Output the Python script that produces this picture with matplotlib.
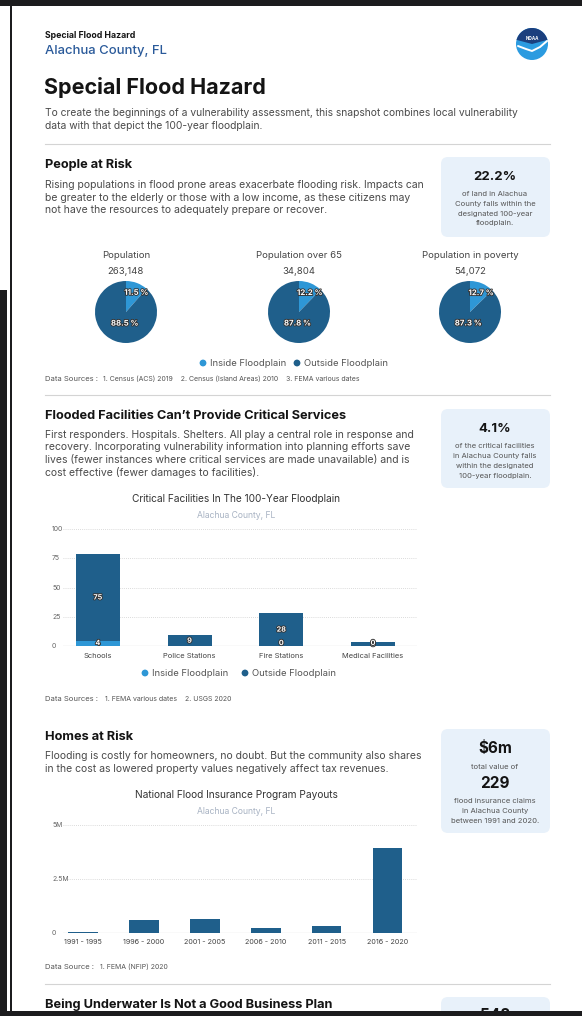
import matplotlib
matplotlib.use("Agg")
import numpy as np
import matplotlib.pyplot as plt
import matplotlib.patheffects as pe
from matplotlib.patches import Rectangle, FancyBboxPatch, Circle, Wedge

W, H = 582, 1016
plt.rcParams["font.family"] = ["Inter", "DejaVu Sans"]

DARK = "#1f5f8b"
LIGHT = "#2e97d6"
BOX = "#e8f1fa"
INK = "#141414"
BODY = "#4a4a4a"

# ------------------------------------------------------------------ data
pie_titles = ["Population", "Population over 65", "Population in poverty"]
pie_totals = ["263,148", "34,804", "54,072"]
pie_inside = [11.5, 12.2, 12.7]
pie_outside = [88.5, 87.8, 87.3]

fac_cats = ["Schools", "Police Stations", "Fire Stations", "Medical Facilities"]
fac_inside = [4, 0, 0, 0]
fac_outside = [75, 9, 28, 3]
fac_show_inside = [True, False, True, True]
fac_yticks = [0, 25, 50, 75, 100]

nfip_periods = ["1991 - 1995", "1996 - 2000", "2001 - 2005",
                "2006 - 2010", "2011 - 2015", "2016 - 2020"]
nfip_payouts = [0.06e6, 0.60e6, 0.66e6, 0.22e6, 0.34e6, 3.95e6]
nfip_yticks = [0, 2.5e6, 5e6]
nfip_yticklabels = ["0", "2.5M", "5M"]

intro = ["To create the beginnings of a vulnerability assessment, this snapshot combines local vulnerability",
         "data with that depict the 100-year floodplain."]
people_text = ["Rising populations in flood prone areas exacerbate flooding risk. Impacts can",
               "be greater to the elderly or those with a low income, as these citizens may",
               "not have the resources to adequately prepare or recover."]
people_box = ["of land in Alachua", "County falls within the", "designated 100-year", "floodplain."]
fac_text = ["First responders. Hospitals. Shelters. All play a central role in response and",
            "recovery. Incorporating vulnerability information into planning efforts save",
            "lives (fewer instances where critical services are made unavailable) and is",
            "cost effective (fewer damages to facilities)."]
fac_box = ["of the critical facilities", "in Alachua County falls", "within the designated", "100-year floodplain."]
homes_text = ["Flooding is costly for homeowners, no doubt. But the community also shares",
              "in the cost as lowered property values negatively affect tax revenues."]
homes_box = ["flood insurance claims", "in Alachua County", "between 1991 and 2020."]

fig = plt.figure(figsize=(W / 100, H / 100), dpi=100)
fig.patch.set_facecolor("white")
ax = fig.add_axes([0, 0, 1, 1])
ax.set_xlim(0, W)
ax.set_ylim(H, 0)
ax.axis("off")

BODY_FS = 7.5
HEAD_FS = 9.2
BOX_FS = 5.5
SRC_FS = 5.0


def px_axes(x0, y0, x1, y1):
    return fig.add_axes([x0 / W, 1 - y1 / H, (x1 - x0) / W, (y1 - y0) / H])


def lines(txts, x, y0, step, **kw):
    for i, t in enumerate(txts):
        ax.text(x, y0 + i * step, t, va="center", **kw)


def stat_box(y0, y1):
    ax.add_patch(FancyBboxPatch((441, y0), 109, y1 - y0,
                                boxstyle="round,pad=0,rounding_size=7",
                                fc=BOX, ec="none"))


def divider(y):
    ax.plot([45, 550], [y, y], color="#d4d4d4", lw=0.8)


def legend(y, xs):
    for (xc, col, lab) in zip(xs, [LIGHT, DARK], ["Inside Floodplain", "Outside Floodplain"]):
        ax.add_patch(Circle((xc, y), 3.4, fc=col, ec="none"))
        ax.text(xc + 7, y, lab, va="center", fontsize=6.8, color="#555")


def sources(y, label, rest, x_rest):
    ax.text(45, y, label, fontsize=5.5, color="#555", va="center")
    ax.text(x_rest, y, rest, fontsize=SRC_FS, color="#555", va="center")


outline = [pe.withStroke(linewidth=1.3, foreground="#333")]

# ------------------------------------------------------------------ header
ax.text(45, 36, "Special Flood Hazard", fontsize=6.3, weight="bold", color=INK, va="center")
ax.text(45, 51, "Alachua County, FL", fontsize=9.4, weight="medium", color="#2a5a9a", va="center")
ax.text(44, 88, "Special Flood Hazard", fontsize=15.5, weight="bold", color=INK, va="center")
lines(intro, 45, 113, 13, fontsize=7.4, color=BODY)
divider(144)

# NOAA logo
ax.add_patch(Circle((532, 44), 16, fc="#2b9be0", ec="none"))
ax.add_patch(Wedge((532, 44), 16, 195, 345, fc="#1b3f7e", ec="none"))
ax.plot([518, 526, 532, 540, 547], [46, 49, 51, 47, 41], color="white", lw=1.4,
        solid_capstyle="round")
ax.text(532, 38, "NOAA", fontsize=3.2, weight="bold", color="white", ha="center", va="center")

# ------------------------------------------------------------------ people at risk
ax.text(45, 165, "People at Risk", fontsize=HEAD_FS, weight="bold", color=INK, va="center")
lines(people_text, 45, 185, 12.7, fontsize=BODY_FS, color=BODY)
stat_box(157, 237)
ax.text(495, 177, "22.2%", fontsize=9.5, weight="bold", color=INK, ha="center", va="center")
lines(people_box, 495, 194, 9.8, fontsize=BOX_FS, color="#555", ha="center")

pie_cx = [126, 299, 470]
for cx, title, tot, pin, pout in zip(pie_cx, pie_titles, pie_totals, pie_inside, pie_outside):
    ax.text(cx, 256, title, fontsize=6.9, color="#444", ha="center", va="center")
    ax.text(cx, 271, tot, fontsize=6.9, color="#444", ha="center", va="center")
    pax = px_axes(cx - 31, 281, cx + 31, 343)
    wedges, _ = pax.pie([pin, pout], colors=[LIGHT, DARK], startangle=90,
                        counterclock=False, radius=1.0)
    pax.set_xlim(-1, 1)
    pax.set_ylim(-1, 1)
    pax.set_aspect("equal")
    for w, v, r in zip(wedges, [pin, pout], [0.66, 0.4]):
        ang = np.deg2rad((w.theta1 + w.theta2) / 2)
        pax.text(r * np.cos(ang) + 0.1, r * np.sin(ang), f"{v} %", ha="center", va="center",
                 fontsize=5.6, color="white", weight="bold", path_effects=outline)

legend(363, [203, 297])
sources(379, "Data Sources :",
        "1. Census (ACS) 2019    2. Census (Island Areas) 2010    3. FEMA various dates", 103)
divider(395)

# ------------------------------------------------------------------ facilities
ax.text(45, 416, "Flooded Facilities Can\u2019t Provide Critical Services", fontsize=HEAD_FS,
        weight="bold", color=INK, va="center")
lines(fac_text, 45, 434.5, 12.8, fontsize=BODY_FS, color=BODY)
stat_box(409, 488)
ax.text(495, 429, "4.1%", fontsize=9.5, weight="bold", color=INK, ha="center", va="center")
lines(fac_box, 495, 446, 10, fontsize=BOX_FS, color="#555", ha="center")

ax.text(236, 499, "Critical Facilities In The 100-Year Floodplain", fontsize=7.3,
        color="#333", ha="center", va="center")
ax.text(236, 516, "Alachua County, FL", fontsize=6.2, color="#a8b3c3", ha="center", va="center")

fax = px_axes(63, 529, 417, 646)
xs = list(range(len(fac_cats)))
fax.bar(xs, fac_inside, width=0.48, color=LIGHT, zorder=3)
fax.bar(xs, fac_outside, width=0.48, bottom=fac_inside, color=DARK, zorder=3)
for t in fac_yticks[1:]:
    fax.axhline(t, color="#cfcfcf", lw=0.6, ls=(0, (1, 1.5)), zorder=1)
fax.axhline(0, color="#d6d6d6", lw=0.9, zorder=2)
for t in fac_yticks:
    fax.text(-0.031, t, str(t), transform=fax.get_yaxis_transform(), fontsize=5.0,
             color="#666", va="center", ha="left")
for i, (vin, vout, show) in enumerate(zip(fac_inside, fac_outside, fac_show_inside)):
    fax.text(i, vin + vout / 2, str(vout), ha="center", va="center", fontsize=5.2,
             color="white", weight="bold", path_effects=outline, zorder=5)
    if show:
        fax.text(i, max(vin / 2, 2.5), str(vin), ha="center", va="center", fontsize=5.2,
                 color="white", weight="bold", path_effects=outline, zorder=5)
fax.set_xlim(-0.38, 3.48)
fax.set_ylim(0, 100)
fax.set_xticks(xs)
fax.set_xticklabels(fac_cats, fontsize=5.4, color="#444")
fax.tick_params(length=0, pad=5)
fax.set_yticks([])
for s in fax.spines.values():
    s.set_visible(False)
fax.patch.set_alpha(0)

legend(673, [145, 245])
sources(699, "Data Sources :", "1. FEMA various dates    2. USGS 2020", 105)

# ------------------------------------------------------------------ homes
ax.text(45, 737, "Homes at Risk", fontsize=HEAD_FS, weight="bold", color=INK, va="center")
lines(homes_text, 45, 756, 13, fontsize=BODY_FS, color=BODY)
stat_box(729, 833)
ax.text(495, 749, "$6m", fontsize=11, weight="bold", color=INK, ha="center", va="center")
ax.text(495, 767, "total value of", fontsize=BOX_FS, color="#555", ha="center", va="center")
ax.text(495, 784, "229", fontsize=11, weight="bold", color=INK, ha="center", va="center")
lines(homes_box, 495, 801, 10, fontsize=BOX_FS, color="#555", ha="center")

ax.text(236, 795, "National Flood Insurance Program Payouts", fontsize=7.3,
        color="#333", ha="center", va="center")
ax.text(236, 811, "Alachua County, FL", fontsize=6.2, color="#a8b3c3", ha="center", va="center")

hax = px_axes(63, 825, 417, 933)
xs = list(range(len(nfip_periods)))
hax.bar(xs, nfip_payouts, width=0.48, color=DARK, zorder=3)
for t in nfip_yticks[1:]:
    hax.axhline(t, color="#cfcfcf", lw=0.6, ls=(0, (1, 1.5)), zorder=1)
hax.axhline(0, color="#d6d6d6", lw=0.9, zorder=2)
for t, lab in zip(nfip_yticks, nfip_yticklabels):
    hax.text(-0.031, t, lab, transform=hax.get_yaxis_transform(), fontsize=5.0,
             color="#666", va="center", ha="left")
hax.set_xlim(-0.33, 5.48)
hax.set_ylim(0, 5e6)
hax.set_xticks(xs)
hax.set_xticklabels(nfip_periods, fontsize=5.2, color="#444")
hax.tick_params(length=0, pad=4)
hax.set_yticks([])
for s in hax.spines.values():
    s.set_visible(False)
hax.patch.set_alpha(0)

sources(967, "Data Source :", "1. FEMA (NFIP) 2020", 100)
divider(984)

# ------------------------------------------------------------------ next section (cut off)
ax.text(45, 1005, "Being Underwater Is Not a Good Business Plan", fontsize=HEAD_FS,
        weight="bold", color=INK, va="center")
stat_box(997, 1040)
ax.text(495, 1016, "548", fontsize=11, weight="bold", color=INK, ha="center", va="center")

# ------------------------------------------------------------------ screenshot frame
top = fig.add_axes([0, 0, 1, 1])
top.set_xlim(0, W)
top.set_ylim(H, 0)
top.axis("off")
top.patch.set_alpha(0)
top.add_patch(Rectangle((0, 0), W, 6, fc="#1c1c1e", ec="none"))
top.add_patch(Rectangle((0, 1011), W, 5, fc="#1c1c1e", ec="none"))
top.add_patch(Rectangle((0, 290), 7, H - 290, fc="#1c1c1e", ec="none"))
top.add_patch(Rectangle((9.5, 0), 2.5, H, fc="#1c1c1e", ec="none"))

fig.savefig("out.png", dpi=100)
